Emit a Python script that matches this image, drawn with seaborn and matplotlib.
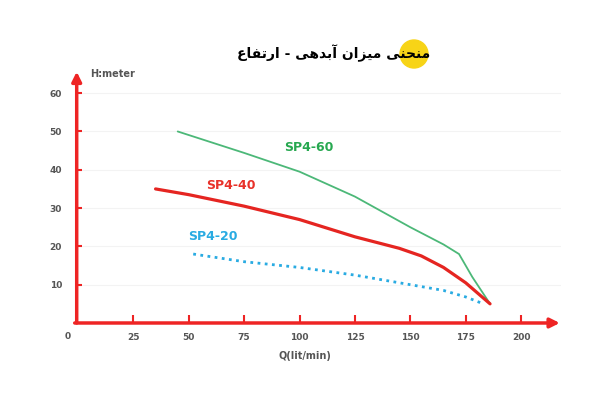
import numpy as np
import pandas as pd
import seaborn as sns
import matplotlib.pyplot as plt
from matplotlib.patches import Circle
from matplotlib.transforms import IdentityTransform

# pump curves: Q (lit/min) vs H (meter)
q_sp60 = [45, 60, 75, 100, 125, 150, 165, 172, 178, 186]
h_sp60 = [50, 47.2, 44.4, 39.5, 33, 25, 20.5, 18, 12, 5]
q_sp40 = [35, 50, 75, 100, 125, 145, 155, 165, 175, 186]
h_sp40 = [35, 33.5, 30.5, 27, 22.5, 19.5, 17.5, 14.5, 10.5, 5]
q_sp20 = [52, 75, 100, 125, 150, 165, 175, 183]
h_sp20 = [18, 16, 14.5, 12.5, 10, 8.5, 6.8, 5]
x_ticks = [25, 50, 75, 100, 125, 150, 175, 200]
y_ticks = [10, 20, 30, 40, 50, 60]

# title in visual order (presentation forms, right-to-left reversed)
title = "\ufec9\ufe8e\ufed4\ufe97\ufead\ufe8d - \ufef0\ufeeb\ufeaa\ufe91\ufe81 \ufee5\ufe8d\ufeb0\ufef4\ufee3 \ufef0\ufee8\ufea4\ufee8\ufee3"

RED = "#ee2424"
GRAY = "#555555"

df = pd.concat([
    pd.DataFrame({"Q": q_sp60, "H": h_sp60, "pump": "SP4-60"}),
    pd.DataFrame({"Q": q_sp40, "H": h_sp40, "pump": "SP4-40"}),
    pd.DataFrame({"Q": q_sp20, "H": h_sp20, "pump": "SP4-20"}),
])

sns.set_theme(style="white")
plt.rcParams['font.family'] = ['DejaVu Sans']

fig = plt.figure(figsize=(6.07, 4.18), dpi=100)
ax = fig.add_axes([0.1249, 0.2273, 0.7992, 0.6048])

for y in y_ticks:
    ax.axhline(y, color="#f3f3f3", lw=0.8, zorder=0)

sns.lineplot(data=df[df.pump == "SP4-60"], x="Q", y="H", color="#4cb878", lw=1.3, ax=ax)
sns.lineplot(data=df[df.pump == "SP4-40"], x="Q", y="H", color="#e52521", lw=2.3, ax=ax)
sns.lineplot(data=df[df.pump == "SP4-20"], x="Q", y="H", color="#29abe2", lw=2.0,
             ax=ax, linestyle=(0, (1, 1.6)))

ax.text(104, 45.7, "SP4-60", color="#27a850", fontsize=9, fontweight="bold", ha="center", va="center")
ax.text(69, 35.8, "SP4-40", color="#e8322a", fontsize=9, fontweight="bold", ha="center", va="center")
ax.text(61, 22.5, "SP4-20", color="#29abe2", fontsize=9, fontweight="bold", ha="center", va="center")

ax.set_xlim(-1, 218)
ax.set_ylim(0, 66)
for s in ax.spines.values():
    s.set_visible(False)

# axes with arrow heads
ax.annotate("", xy=(-0.6, 65.6), xytext=(-0.6, 0),
            arrowprops=dict(arrowstyle="-|>", color=RED, lw=2.5, mutation_scale=14,
                            shrinkA=0, shrinkB=0), annotation_clip=False)
ax.annotate("", xy=(217.5, 0), xytext=(-1.5, 0),
            arrowprops=dict(arrowstyle="-|>", color=RED, lw=2.5, mutation_scale=14,
                            shrinkA=0, shrinkB=0), annotation_clip=False)

ax.set_xticks(x_ticks)
ax.set_yticks(y_ticks)
ax.tick_params(axis="x", direction="in", length=6, width=1.5, color=RED, labelcolor=GRAY,
               labelsize=6.5, pad=7, bottom=True)
ax.tick_params(axis="y", direction="in", length=4, width=1.5, color=RED, labelcolor=GRAY,
               labelsize=6.5, pad=10, left=True)
for lab in ax.get_xticklabels() + ax.get_yticklabels():
    lab.set_fontweight("bold")
ax.set_xlabel("")
ax.set_ylabel("")

ax.text(-4.5, -3.4, "0", color=GRAY, fontsize=6.5, fontweight="bold", ha="center", va="center")
fig.text(113 / 607, 1 - 74 / 418, "H:meter", color=GRAY, fontsize=7, fontweight="bold",
         ha="center", va="center")
fig.text(305 / 607, 1 - 356 / 418, "Q(lit/min)", color=GRAY, fontsize=7, fontweight="bold",
         ha="center", va="center")

fig.add_artist(Circle((414, 418 - 54), 14, color="#f7d417", transform=IdentityTransform(), zorder=1))
fig.text(334 / 607, 1 - 53 / 418, title, color="black", fontsize=10, fontweight="bold",
         ha="center", va="center", zorder=2)

fig.savefig("out.png", dpi=100)
